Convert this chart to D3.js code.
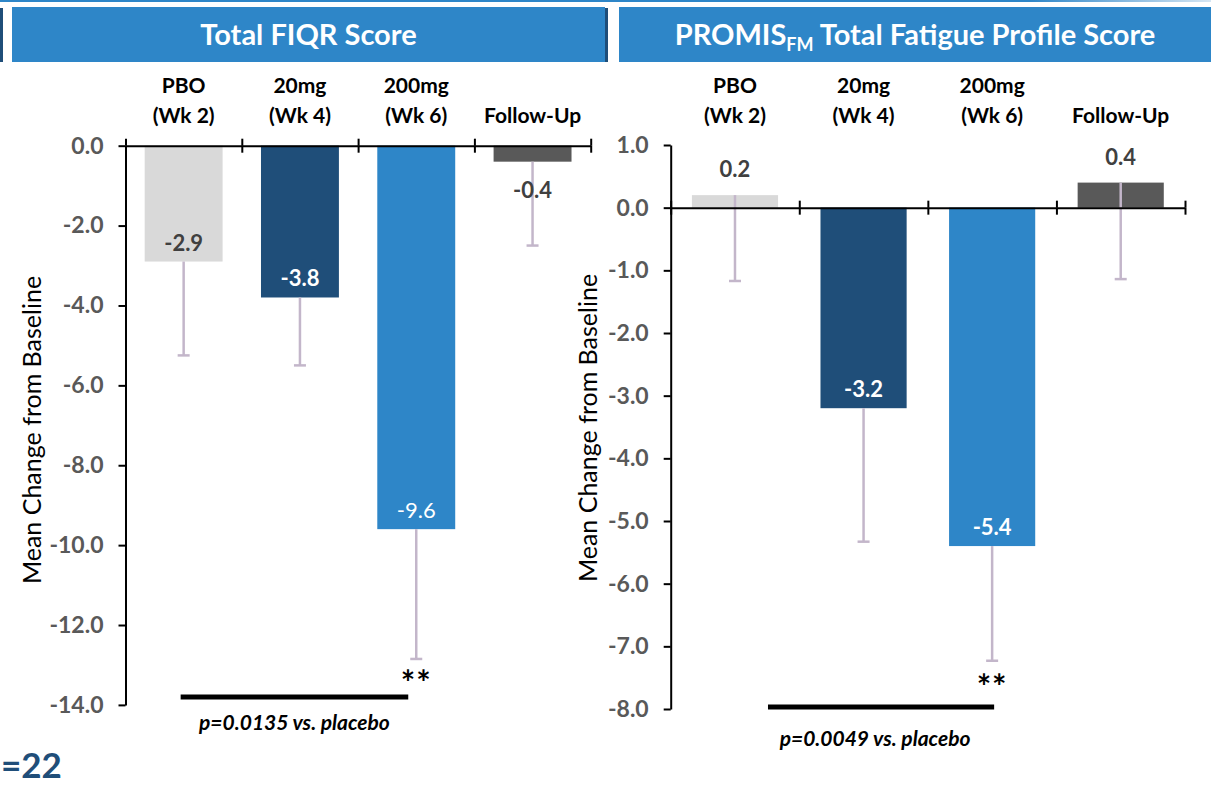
<!DOCTYPE html>
<html lang="en">
<head>
<meta charset="UTF-8">
<title>Total FIQR and PROMIS Fatigue Scores</title>
<script src="https://d3js.org/d3.v7.min.js"></script>
<style>
  body { margin: 0; background: #fff; font-family: Lato, "Noto Sans", sans-serif; }
  svg { display: block; }
  .yaxis .tick text { font-family: Lato, sans-serif; font-weight: bold; font-size: 23px; fill: #595959; }
  .yaxis path, .yaxis line, .xaxis path, .xaxis line { stroke: #000; stroke-width: 2; }
</style>
</head>
<body>
<div id="chart"></div>
<script>
// categories shown above both panels
const catLine1 = ["PBO", "20mg", "200mg", ""];
const catLine2 = ["(Wk 2)", "(Wk 4)", "(Wk 6)", "Follow-Up"];
const barColors = ["#d9d9d9", "#1f4e79", "#2e86c8", "#595959"];
const labelColors = ["#404040", "#ffffff", "#ffffff", "#404040"];

// Total FIQR score: mean change and lower end of error bar
const fiqrMean = [-2.9, -3.8, -9.6, -0.4];
const fiqrErrEnd = [-5.25, -5.5, -12.85, -2.5];
const fiqrTicks = [0, -2, -4, -6, -8, -10, -12, -14];
const fiqrP = "p=0.0135 vs. placebo";

// PROMIS-FM total fatigue profile score
const fatigueMean = [0.2, -3.2, -5.4, 0.4];
const fatigueErrEnd = [-1.17, -5.33, -7.23, -1.14];
const fatigueTicks = [1, 0, -1, -2, -3, -4, -5, -6, -7, -8];
const fatigueP = "p=0.0049 vs. placebo";

const W = 1211, H = 785;
const svg = d3.select("#chart").append("svg")
  .attr("width", W).attr("height", H);

// thin blue rule along the top edge
const grad = svg.append("defs").append("linearGradient").attr("id", "topfade");
grad.append("stop").attr("offset", "0%").attr("stop-color", "#2e86c8");
grad.append("stop").attr("offset", "85%").attr("stop-color", "#2e86c8");
grad.append("stop").attr("offset", "100%").attr("stop-color", "#d6e6f3");
svg.append("rect").attr("x", 0).attr("y", 0).attr("width", W).attr("height", 2)
  .attr("fill", "url(#topfade)");
svg.append("rect").attr("x", 0).attr("y", 8).attr("width", 3).attr("height", 54).attr("fill", "#1f4e79");
svg.append("rect").attr("x", 605).attr("y", 8).attr("width", 3).attr("height", 54).attr("fill", "#1f4e79");

function drawPanel(o) {
  const g = svg.append("g");
  const n = o.mean.length;

  const x = d3.scaleBand().domain(d3.range(n)).range([o.left, o.right]);
  const xb = d3.scaleLinear().domain([0, n]).range([o.left, o.right]);
  const y = d3.scaleLinear().domain([o.ticks[0], o.ticks[o.ticks.length - 1]])
    .range([o.top, o.bottom]);
  const cx = i => x(i) + x.bandwidth() / 2;
  const bw = x.bandwidth() * 0.67;

  // header box
  g.append("rect").attr("x", o.boxX0).attr("y", 7).attr("width", o.boxX1 - o.boxX0).attr("height", 55)
    .attr("fill", "#2e86c8");
  const title = g.append("text").attr("x", (o.boxX0 + o.boxX1) / 2).attr("y", 45)
    .attr("text-anchor", "middle").attr("fill", "#fff")
    .style("font-size", "29px").style("font-weight", "bold");
  o.title.forEach(t => {
    const ts = title.append("tspan").text(t.text);
    if (t.sub) ts.style("font-size", "18px").attr("dy", 6);
    else if (t.after) ts.attr("dy", -6);
  });

  // category labels
  g.selectAll(".cat1").data(catLine1).join("text")
    .attr("x", (d, i) => cx(i)).attr("y", 93)
    .attr("text-anchor", "middle").style("font-size", "21px").style("font-weight", "bold")
    .text(d => d);
  g.selectAll(".cat2").data(catLine2).join("text")
    .attr("x", (d, i) => cx(i)).attr("y", 123)
    .attr("text-anchor", "middle").style("font-size", "21px").style("font-weight", "bold")
    .text(d => d);

  // bars
  g.selectAll(".bar").data(o.mean).join("rect")
    .attr("x", (d, i) => cx(i) - bw / 2)
    .attr("y", d => Math.min(y(d), y(0)))
    .attr("width", bw)
    .attr("height", d => Math.abs(y(d) - y(0)))
    .attr("fill", (d, i) => barColors[i]);

  // error bars (lower side only)
  const eb = g.selectAll(".err").data(o.mean).join("g");
  eb.append("line")
    .attr("x1", (d, i) => cx(i)).attr("x2", (d, i) => cx(i))
    .attr("y1", d => y(d)).attr("y2", (d, i) => y(o.err[i]))
    .attr("stroke", "#c3b6ca").attr("stroke-width", 2.5);
  eb.append("line")
    .attr("x1", (d, i) => cx(i) - 6).attr("x2", (d, i) => cx(i) + 6)
    .attr("y1", (d, i) => y(o.err[i])).attr("y2", (d, i) => y(o.err[i]))
    .attr("stroke", "#c3b6ca").attr("stroke-width", 2.5);

  // value labels
  g.selectAll(".val").data(o.mean).join("text")
    .attr("x", (d, i) => cx(i))
    .attr("y", d => {
      const len = Math.abs(y(d) - y(0));
      if (d > 0) return y(d) - 18;
      if (len < 40) return y(d) + 36;
      return y(d) - 11;
    })
    .attr("text-anchor", "middle")
    .attr("fill", (d, i) => labelColors[i])
    .style("font-size", "22px")
    .style("font-weight", (d, i) => i === o.lightIdx ? "normal" : "bold")
    .text(d => d.toFixed(1));

  // y axis
  g.append("g").attr("class", "yaxis")
    .attr("transform", `translate(${o.left},0)`)
    .call(d3.axisLeft(y).tickValues(o.ticks).tickFormat(d => d.toFixed(1))
      .tickSize(7).tickSizeOuter(0).tickPadding(15));

  // x axis at zero with crossing ticks on category boundaries
  const xa = g.append("g").attr("class", "xaxis").attr("transform", `translate(0,${y(0)})`);
  xa.append("g").call(d3.axisBottom(xb).tickValues(d3.range(n + 1)).tickFormat("")
    .tickSize(7).tickSizeOuter(0));
  xa.append("g").call(d3.axisTop(xb).tickValues(d3.range(n + 1)).tickFormat("")
    .tickSize(7).tickSizeOuter(0)).select(".domain").remove();

  // y axis title
  g.append("text")
    .attr("transform", `translate(${o.titleX},${o.titleY}) rotate(-90)`)
    .attr("text-anchor", "middle").style("font-size", "25px")
    .text("Mean Change from Baseline");

  // significance annotation
  const sx0 = cx(0) + o.sig.dx0, sx1 = cx(2) + o.sig.dx1, sy = y(o.sig.level);
  g.append("line").attr("x1", sx0).attr("x2", sx1).attr("y1", sy).attr("y2", sy)
    .attr("stroke", "#000").attr("stroke-width", 5);
  g.append("text").attr("x", cx(2)).attr("y", y(o.err[2]) + o.sig.starDy)
    .attr("text-anchor", "middle").style("font-size", "34px").style("font-weight", "bold")
    .style("letter-spacing", "1px")
    .text("**");
  g.append("text").attr("x", (sx0 + sx1) / 2 + o.sig.textDx).attr("y", sy + o.sig.textDy)
    .attr("text-anchor", "middle").style("font-size", "21px")
    .style("font-style", "italic").style("font-weight", "bold")
    .text(o.p);
}

drawPanel({
  mean: fiqrMean, err: fiqrErrEnd, ticks: fiqrTicks, p: fiqrP,
  left: 125.5, right: 590.7, top: 145.7, bottom: 704.9,
  boxX0: 12, boxX1: 605,
  title: [{ text: "Total FIQR Score" }],
  titleX: 41, titleY: 430, lightIdx: 2,
  sig: { dx0: -3, dx1: -8, level: -13.8, starDy: 36, textDx: 0, textDy: 33 }
});

drawPanel({
  mean: fatigueMean, err: fatigueErrEnd, ticks: fatigueTicks, p: fatigueP,
  left: 670.7, right: 1185, top: 145, bottom: 709,
  boxX0: 619, boxX1: 1211,
  title: [{ text: "PROMIS" }, { text: "FM", sub: true }, { text: " Total Fatigue Profile Score", after: true }],
  titleX: 597, titleY: 428, lightIdx: -1,
  sig: { dx0: 33, dx1: 2, level: -7.97, starDy: 38, textDx: -6, textDy: 39 }
});

// sample-size fragment at lower left
svg.append("text").attr("x", 1).attr("y", 778)
  .attr("fill", "#1f4e79").style("font-size", "35px").style("font-weight", "bold")
  .text("=22");
</script>
</body>
</html>
